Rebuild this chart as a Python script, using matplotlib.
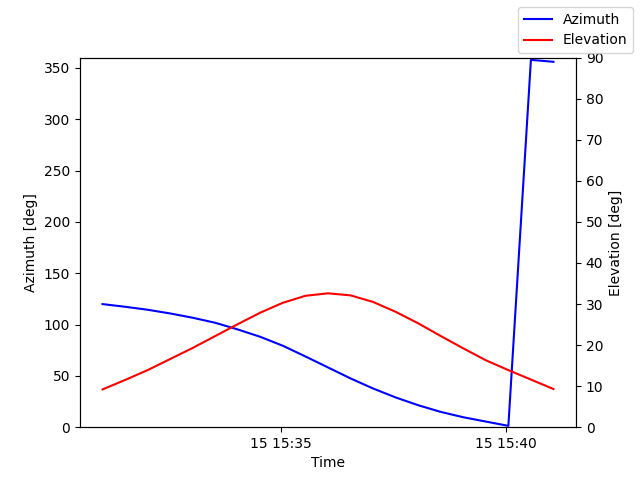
import matplotlib

matplotlib.use("Agg")

import matplotlib.pyplot as plt
import numpy as np
import pandas as pd

# Pass samples every 30 s
times = pd.date_range("2024-01-15 15:31:03", periods=21, freq="30s")

azimuth = [119.9, 117.3, 114.4, 110.8, 106.6, 101.7, 95.2, 88.0, 79.3, 68.9,
           58.2, 47.5, 37.7, 29.0, 21.4, 14.9, 9.7, 5.5, 1.3, 357.8, 355.9]

elevation = [9.2, 11.5, 13.9, 16.6, 19.3, 22.2, 25.1, 27.9, 30.3, 32.0,
             32.6, 32.1, 30.5, 28.1, 25.3, 22.2, 19.2, 16.3, 13.9, 11.6, 9.3]

fig, ax1 = plt.subplots(figsize=(6.4, 4.8), dpi=100)

ax1.plot(times, azimuth, color="blue", label="Azimuth")
ax1.set_xlabel("Time")
ax1.set_ylabel("Azimuth [deg]")
ax1.set_ylim(0, 360)

ax2 = ax1.twinx()
ax2.plot(times, elevation, color="red", label="Elevation")
ax2.set_ylabel("Elevation [deg]")
ax2.set_ylim(0, 90)

fig.legend(loc="upper right")

fig.savefig("out.png")
